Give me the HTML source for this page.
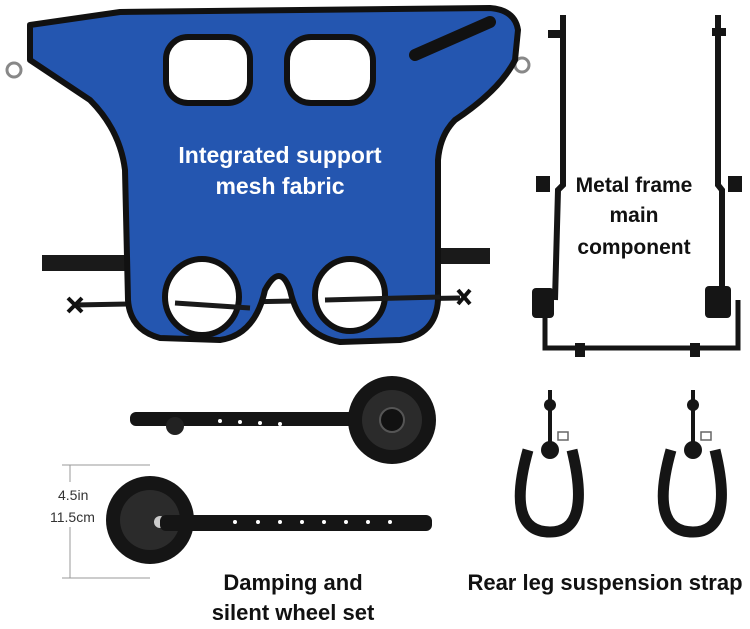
<!DOCTYPE html>
<html><head><meta charset="utf-8"><style>
html,body{margin:0;padding:0;background:#fff;width:750px;height:629px;overflow:hidden}
svg{display:block}
.t{font-family:"Liberation Sans",sans-serif;font-weight:bold}
</style></head><body>
<svg width="750" height="629" viewBox="0 0 750 629" xmlns="http://www.w3.org/2000/svg">
<rect x="42" y="255" width="90" height="16" fill="#1a1a1a"/>
<rect x="415" y="248" width="75" height="16" fill="#1a1a1a"/>
<path d="M75 305 L460 298" stroke="#1a1a1a" stroke-width="5"/>
<path d="M68 298 l14 14 M82 298 l-14 14 M458 290 l12 14 M470 290 l-12 14" stroke="#111" stroke-width="4"/>
<circle cx="14" cy="70" r="7" fill="none" stroke="#888" stroke-width="3"/>
<circle cx="522" cy="65" r="7" fill="none" stroke="#888" stroke-width="3"/>
<path d="M30 25 L120 12 L490 8 Q515 10 518 30 L515 60 Q500 90 455 120 Q440 135 438 160 L438 300 Q436 335 400 340 L340 342 Q300 335 290 290 Q280 262 265 290 Q255 335 220 340 L160 338 Q130 330 128 300 L125 170 Q120 130 90 100 L30 60 Z" fill="#2456b0" stroke="#111" stroke-width="6" stroke-linejoin="round"/>
<path d="M415 55 L490 22" stroke="#111" stroke-width="12" stroke-linecap="round"/>
<rect x="166" y="37" width="84" height="66" rx="22" fill="#fff" stroke="#111" stroke-width="6"/>
<rect x="287" y="37" width="86" height="66" rx="24" fill="#fff" stroke="#111" stroke-width="6"/>
<ellipse cx="202" cy="297" rx="37" ry="38" fill="#fff" stroke="#111" stroke-width="6"/>
<ellipse cx="350" cy="295" rx="35" ry="36" fill="#fff" stroke="#111" stroke-width="6"/>
<path d="M175 303 L250 308 M325 300 L440 297" stroke="#1a1a1a" stroke-width="5"/>
<text class="t" x="280" y="163" fill="#fff" font-size="23" text-anchor="middle">Integrated support</text>
<text class="t" x="280" y="194" fill="#fff" font-size="23" text-anchor="middle">mesh fabric</text>
<g stroke="#151515" fill="none">
<path d="M563 15 L563 185 L558 190 L555 300" stroke-width="6"/>
<path d="M718 15 L718 185 L722 190 L722 300" stroke-width="6"/>
<path d="M545 300 L545 348 L738 348 L738 300" stroke-width="5"/>
</g>
<g fill="#151515">
<rect x="548" y="30" width="16" height="8"/><rect x="712" y="28" width="14" height="8"/>
<rect x="536" y="176" width="14" height="16"/><rect x="728" y="176" width="14" height="16"/>
<rect x="532" y="288" width="22" height="30" rx="4"/><rect x="705" y="286" width="26" height="32" rx="4"/>
<rect x="575" y="343" width="10" height="14"/><rect x="690" y="343" width="10" height="14"/>
</g>
<text class="t" x="634" y="192" fill="#111" font-size="21" text-anchor="middle">Metal frame</text>
<text class="t" x="634" y="222" fill="#111" font-size="21" text-anchor="middle">main</text>
<text class="t" x="634" y="254" fill="#111" font-size="21" text-anchor="middle">component</text>
<rect x="130" y="412" width="255" height="14" rx="6" fill="#151515"/>
<circle cx="175" cy="426" r="9" fill="#222"/>
<circle cx="392" cy="420" r="44" fill="#151515"/>
<circle cx="392" cy="420" r="30" fill="#2b2b2b"/>
<circle cx="392" cy="420" r="12" fill="#111" stroke="#555" stroke-width="2"/>
<g fill="#fff"><circle cx="220" cy="421" r="2"/><circle cx="240" cy="422" r="2"/><circle cx="260" cy="423" r="2"/><circle cx="280" cy="424" r="2"/></g>
<circle cx="150" cy="520" r="44" fill="#151515"/>
<circle cx="150" cy="520" r="30" fill="#2b2b2b"/>
<circle cx="160" cy="522" r="6" fill="#ccc"/>
<rect x="160" y="515" width="272" height="16" rx="6" fill="#151515"/>
<g fill="#fff"><circle cx="235" cy="522" r="2"/><circle cx="258" cy="522" r="2"/><circle cx="280" cy="522" r="2"/><circle cx="302" cy="522" r="2"/><circle cx="324" cy="522" r="2"/><circle cx="346" cy="522" r="2"/><circle cx="368" cy="522" r="2"/><circle cx="390" cy="522" r="2"/></g>
<g stroke="#999" stroke-width="1"><path d="M70 465 L70 578 M62 465 L150 465 M62 578 L150 578"/></g>
<rect x="48" y="482" width="52" height="45" fill="#fff"/>
<text x="58" y="500" font-family="Liberation Sans,sans-serif" font-size="14" fill="#333">4.5in</text>
<text x="50" y="522" font-family="Liberation Sans,sans-serif" font-size="14" fill="#333">11.5cm</text>
<text class="t" x="293" y="590" fill="#111" font-size="22" text-anchor="middle">Damping and</text>
<text class="t" x="293" y="620" fill="#111" font-size="22" text-anchor="middle">silent wheel set</text>
<g stroke="#151515" fill="none">
<path d="M550 390 L550 455" stroke-width="4"/><path d="M693 390 L693 455" stroke-width="4"/>
<path d="M528 450 Q505 532 550 532 Q592 532 572 450" stroke-width="11"/>
<path d="M671 450 Q648 532 693 532 Q735 532 715 450" stroke-width="11"/>
</g>
<g fill="#151515"><circle cx="550" cy="405" r="6"/><circle cx="693" cy="405" r="6"/><circle cx="550" cy="450" r="9"/><circle cx="693" cy="450" r="9"/></g>
<rect x="558" y="432" width="10" height="8" fill="none" stroke="#666" stroke-width="1.5"/>
<rect x="701" y="432" width="10" height="8" fill="none" stroke="#666" stroke-width="1.5"/>
<text class="t" x="605" y="590" fill="#111" font-size="22" text-anchor="middle">Rear leg suspension strap</text>
</svg>
</body></html>
